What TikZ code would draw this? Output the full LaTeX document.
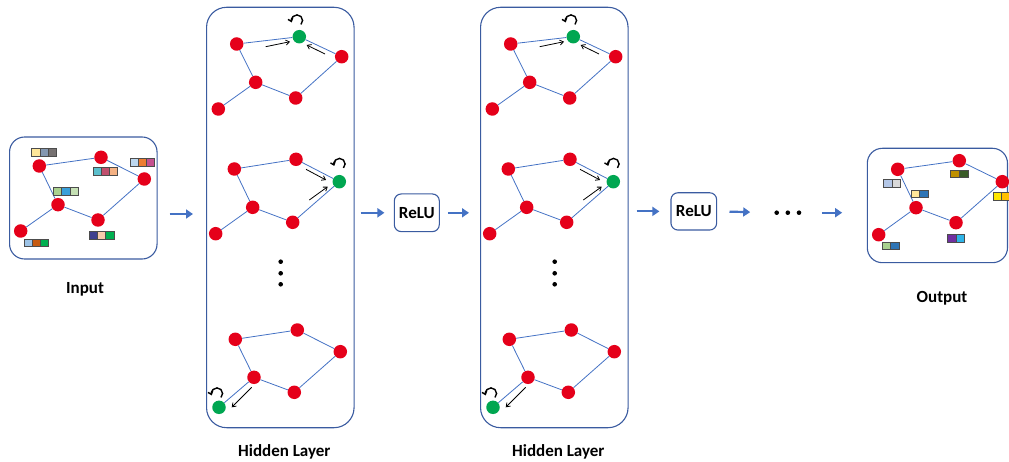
\documentclass[tikz,border=0pt]{standalone}
\usepackage{fontspec}
\setmainfont{Carlito}
\usetikzlibrary{arrows.meta}

\definecolor{nodered}{HTML}{E5001A}
\definecolor{nodegreen}{HTML}{00A651}
\definecolor{edgeblue}{HTML}{4472C4}
\definecolor{framecol}{HTML}{3A5BA0}
% feature cell colours
\definecolor{fA}{HTML}{FFE699}\definecolor{fB}{HTML}{8497B0}\definecolor{fC}{HTML}{767171}
\definecolor{fD}{HTML}{BDD7EE}\definecolor{fE}{HTML}{ED7D31}\definecolor{fF}{HTML}{C5508F}
\definecolor{fG}{HTML}{5BBFCC}\definecolor{fH}{HTML}{C0506E}\definecolor{fI}{HTML}{F4B183}
\definecolor{fJ}{HTML}{A9D18E}\definecolor{fK}{HTML}{3AA0DA}\definecolor{fL}{HTML}{C5E0B4}
\definecolor{fM}{HTML}{3F3F8F}\definecolor{fN}{HTML}{F8CBAD}\definecolor{fO}{HTML}{00B050}
\definecolor{fP}{HTML}{9DC3E6}\definecolor{fQ}{HTML}{C55A11}
\definecolor{gA}{HTML}{B4C7E7}\definecolor{gB}{HTML}{D9D9D9}\definecolor{gC}{HTML}{2E75B6}
\definecolor{gD}{HTML}{BF9000}\definecolor{gE}{HTML}{3A5C28}\definecolor{gF}{HTML}{FFE600}
\definecolor{gG}{HTML}{FFC000}\definecolor{gH}{HTML}{7030A0}\definecolor{gI}{HTML}{2EB4E8}

% a row of feature cells: x, y (top left), cell width, colour list
\newcommand\featrow[4]{%
  \foreach \c [count=\i from 0] in {#4}
    {\draw[cell, fill=\c] ({#1+\i*#3},#2) rectangle ++(#3,7.6);}}
% a self-loop arrow around a centre point
\newcommand\selfloop[2]{%
  \draw[loopar] (#1,#2) ++(45:5.6) arc[start angle=45, end angle=-200, radius=5.6];}

\begin{document}
\begin{tikzpicture}[x=1pt, y=-1pt,
  vred/.style={circle, fill=nodered, minimum size=13.5pt, inner sep=0pt},
  vgreen/.style={circle, fill=nodegreen, minimum size=13.5pt, inner sep=0pt},
  gedge/.style={edgeblue, line width=0.8pt},
  frame/.style={draw=framecol, line width=1.1pt, rounded corners=#1, inner sep=0pt},
  frame/.default=16pt,
  cell/.style={draw=black!70, line width=0.6pt},
  flow/.style={edgeblue, line width=2.2pt, -{Triangle[length=7pt, width=9pt]}},
  msg/.style={black, line width=0.8pt, -{Straight Barb[length=3.5pt, width=5pt]}},
  loopar/.style={black, line width=1.4pt, -{Straight Barb[length=3pt, width=5pt]}},
  lbl/.style={font=\bfseries\fontsize{17}{20}\selectfont},
  dot/.style={circle, fill=black, minimum size=4.6pt, inner sep=0pt}
]
\useasboundingbox (0,0) rectangle (1009,462);

% ---------- input graph ----------
\node[frame=15pt, minimum width=147.5pt, minimum height=122pt] (inbox) at (83.3,198) {};
\node[vred] (i1) at (39.3,166) {};
\node[vred] (i2) at (101,157.3) {};
\node[vred] (i3) at (144.3,179) {};
\node[vred] (i4) at (58,204.7) {};
\node[vred] (i5) at (98,220) {};
\node[vred] (i6) at (20.7,231) {};
\draw[gedge] (i1) -- (i2) -- (i3) -- (i5) -- (i4) -- (i1);
\draw[gedge] (i4) -- (i6);
\featrow{31.7}{148.3}{8.3}{fA,fB,fC}
\featrow{130}{158.3}{8.1}{fD,fE,fF}
\featrow{93.3}{167.3}{8.1}{fG,fH,fI}
\featrow{53.3}{187.3}{8.3}{fJ,fK,fL}
\featrow{89.3}{231.7}{8.2}{fM,fN,fO}
\featrow{24}{239}{8.2}{fP,fQ,fO}
\node[lbl] (inlbl) at (85,289) {Input};

% ---------- two hidden layers ----------
\foreach \L/\dx in {1/0, 2/274} {
\begin{scope}[xshift=\dx pt]
  \node[frame=20pt, minimum width=147.5pt, minimum height=420.4pt] (hid\L) at (280.3,217.5) {};
  % upper graph: target node at the top
  \node[vred]   (h\L a1) at (236.7,44) {};
  \node[vgreen] (h\L a2) at (299.3,36.7) {};
  \node[vred]   (h\L a3) at (341.7,56.7) {};
  \node[vred]   (h\L a4) at (255.7,82.3) {};
  \node[vred]   (h\L a5) at (295.7,98) {};
  \node[vred]   (h\L a6) at (218.3,109) {};
  \draw[gedge] (h\L a1) -- (h\L a2) -- (h\L a3) -- (h\L a5) -- (h\L a4) -- (h\L a1);
  \draw[gedge] (h\L a4) -- (h\L a6);
  \draw[msg] (265.7,46.7) -- (290,41.7);
  \draw[msg] (325,54) -- (306.7,45);
  \selfloop{297}{20.5}
  % middle graph: target node on the right
  \node[vred]   (h\L b1) at (234.3,169) {};
  \node[vred]   (h\L b2) at (296,159.3) {};
  \node[vgreen] (h\L b3) at (339.3,181.7) {};
  \node[vred]   (h\L b4) at (252.7,207.3) {};
  \node[vred]   (h\L b5) at (292.7,222.3) {};
  \node[vred]   (h\L b6) at (215.7,233.7) {};
  \draw[gedge] (h\L b1) -- (h\L b2) -- (h\L b3) -- (h\L b5) -- (h\L b4) -- (h\L b1);
  \draw[gedge] (h\L b4) -- (h\L b6);
  \draw[msg] (306,169.3) -- (326,180);
  \draw[msg] (309.3,200) -- (327.7,186.7);
  \selfloop{339.5}{164}
  % vertical ellipsis
  \node[dot] (h\L d1) at (280.7,261.7) {};
  \node[dot] (h\L d2) at (280.7,273.3) {};
  \node[dot] (h\L d3) at (280.7,284.3) {};
  % lower graph: target node at the bottom left
  \node[vred]   (h\L c1) at (235.3,339.3) {};
  \node[vred]   (h\L c2) at (297.3,330) {};
  \node[vred]   (h\L c3) at (340.3,351.7) {};
  \node[vred]   (h\L c4) at (254,377.3) {};
  \node[vred]   (h\L c5) at (294.3,392.3) {};
  \node[vgreen] (h\L c6) at (219,407.3) {};
  \draw[gedge] (h\L c1) -- (h\L c2) -- (h\L c3) -- (h\L c5) -- (h\L c4) -- (h\L c1);
  \draw[gedge] (h\L c4) -- (h\L c6);
  \draw[msg] (251.7,387.3) -- (231.7,407.3);
  \selfloop{217}{393.5}
  \node[lbl] (hlbl\L) at (284.3,451.5) {Hidden Layer};
\end{scope}
}

% ---------- activations ----------
\node[frame=7pt, minimum width=45pt, minimum height=37.7pt, lbl] (relu1) at (416.8,212.8) {ReLU};
\node[frame=7pt, minimum width=45.7pt, minimum height=37.3pt, lbl] (relu2) at (693.8,211.4) {ReLU};
\node[dot] (e1) at (776.7,212.7) {};
\node[dot] (e2) at (787.8,212.7) {};
\node[dot] (e3) at (799,212.7) {};

% ---------- output graph ----------
\node[frame=15pt, minimum width=140.2pt, minimum height=114.4pt] (outbox) at (937.4,205.5) {};
\node[vred] (o1) at (897.7,169.3) {};
\node[vred] (o2) at (959.3,160.7) {};
\node[vred] (o3) at (1002.3,181.7) {};
\node[vred] (o4) at (916,207.7) {};
\node[vred] (o5) at (956,222.7) {};
\node[vred] (o6) at (878.7,234.7) {};
\draw[gedge] (o1) -- (o2) -- (o3) -- (o5) -- (o4) -- (o1);
\draw[gedge] (o4) -- (o6);
\featrow{883.3}{179.3}{8.7}{gA,gB}
\featrow{911}{190}{8.7}{fA,gC}
\featrow{950.7}{170}{8.7}{gD,gE}
\featrow{993.3}{192.3}{7.8}{gF,gG}
\featrow{947.3}{234.3}{8.5}{gH,gI}
\featrow{882}{242}{8.5}{fJ,gC}
\node[lbl] (outlbl) at (942,298) {Output};

% ---------- flow between stages ----------
\draw[flow, shorten <=12pt, shorten >=13pt] ([yshift=-16pt]inbox.east) -- ([yshift=-16pt]inbox.east -| hid1.west);
\draw[flow, shorten <=6pt, shorten >=9.3pt] (hid1.east |- relu1) -- (relu1.west);
\draw[flow, shorten <=8pt, shorten >=11pt] (relu1.east) -- (relu1.east -| hid2.west);
\draw[flow, shorten <=8pt, shorten >=11pt] (hid2.east |- relu2) -- (relu2.west);
\draw[flow, shorten <=12.3pt, shorten >=24pt] (relu2.east) -- (e1);
\draw[flow, shorten <=20.3pt, shorten >=24.6pt] (e3) -- (e3 -| outbox.west);
\end{tikzpicture}
\end{document}
